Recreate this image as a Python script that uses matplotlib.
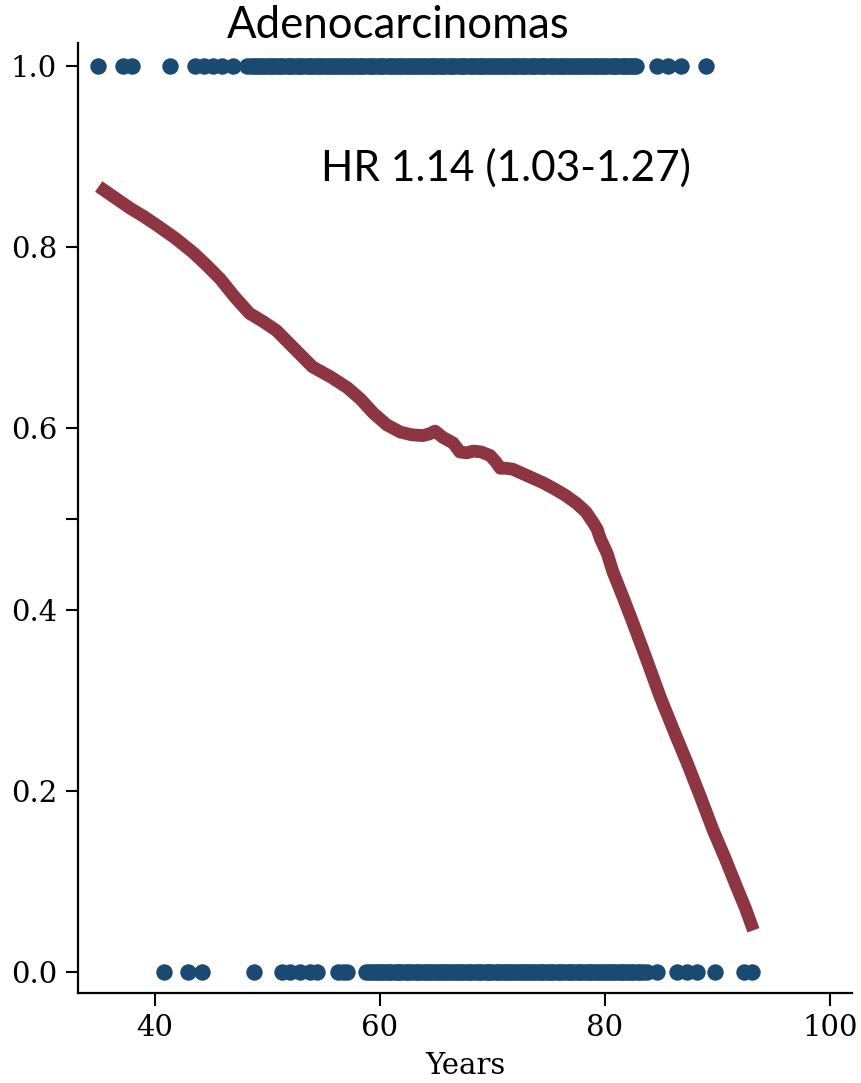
import matplotlib
matplotlib.use("Agg")
import matplotlib.pyplot as plt

# ---- data ----
title = "Adenocarcinomas"
annotation = "HR 1.14 (1.03-1.27)"
x_label = "Years"
x_ticks = [40, 60, 80, 100]
y_ticks = [0.0, 0.2, 0.4, 0.6, 0.8, 1.0]
y_minor_ticks = [0.5]

# ages of subjects with outcome = 1 (top row)
ages_event = [34.9, 37.2, 38.0, 41.3, 43.6, 44.4, 45.2, 46.0, 46.9, 48.2,
              48.5, 48.7, 49.0, 49.2, 49.4, 49.6, 49.9, 50.1, 50.3, 50.5,
              50.8, 51.0, 51.2, 51.4, 51.7, 51.9, 52.1, 52.3, 52.6, 52.8,
              53.0, 53.2, 53.5, 53.7, 53.9, 54.1, 54.4, 54.6, 54.8, 55.0,
              55.3, 55.5, 55.7, 55.9, 56.2, 56.4, 56.6, 56.8, 57.1, 57.3,
              57.5, 57.7, 58.0, 58.2, 58.4, 58.6, 58.9, 59.1, 59.3, 59.5,
              59.8, 60.0, 60.2, 60.4, 60.7, 60.9, 61.1, 61.3, 61.6, 61.8,
              62.0, 62.2, 62.5, 62.7, 62.9, 63.1, 63.4, 63.6, 63.8, 64.0,
              64.3, 64.5, 64.7, 64.9, 65.2, 65.4, 65.6, 65.8, 66.1, 66.3,
              66.5, 66.7, 67.0, 67.2, 67.4, 67.6, 67.9, 68.1, 68.3, 68.5,
              68.8, 69.0, 69.2, 69.4, 69.7, 69.9, 70.1, 70.3, 70.6, 70.8,
              71.0, 71.2, 71.5, 71.7, 71.9, 72.1, 72.4, 72.6, 72.8, 73.0,
              73.3, 73.5, 73.7, 73.9, 74.2, 74.4, 74.6, 74.8, 75.1, 75.3,
              75.5, 75.7, 76.0, 76.2, 76.4, 76.6, 76.9, 77.1, 77.3, 77.5,
              77.8, 78.0, 78.2, 78.4, 78.7, 78.9, 79.1, 79.3, 79.6, 79.8,
              80.0, 80.2, 80.5, 80.7, 80.9, 81.1, 81.4, 81.6, 81.8, 82.0,
              82.2, 82.4, 82.6, 82.8, 84.6, 85.6, 86.8, 89.0]

# ages of subjects with outcome = 0 (bottom row)
ages_noevent = [40.8, 42.9, 44.2, 48.8, 51.3, 52.0, 52.9, 53.8, 54.4, 56.3,
                56.7, 57.1, 58.8, 59.0, 59.2, 59.5, 59.7, 59.9, 60.1, 60.4,
                60.6, 60.8, 61.0, 61.3, 61.5, 61.7, 61.9, 62.2, 62.4, 62.6,
                62.8, 63.1, 63.3, 63.5, 63.7, 64.0, 64.2, 64.4, 64.6, 64.9,
                65.1, 65.3, 65.5, 65.8, 66.0, 66.2, 66.4, 66.7, 66.9, 67.1,
                67.3, 67.6, 67.8, 68.0, 68.2, 68.5, 68.7, 68.9, 69.1, 69.4,
                69.6, 69.8, 70.0, 70.3, 70.5, 70.7, 70.9, 71.2, 71.4, 71.6,
                71.8, 72.1, 72.3, 72.5, 72.7, 73.0, 73.2, 73.4, 73.6, 73.9,
                74.1, 74.3, 74.5, 74.8, 75.0, 75.2, 75.4, 75.7, 75.9, 76.1,
                76.3, 76.6, 76.8, 77.0, 77.2, 77.5, 77.7, 77.9, 78.1, 78.4,
                78.6, 78.8, 79.0, 79.3, 79.5, 79.7, 79.9, 80.2, 80.4, 80.6,
                80.8, 81.1, 81.3, 81.5, 81.7, 82.0, 82.2, 82.4, 82.6, 82.9,
                83.1, 83.4, 83.7, 84.6, 86.4, 87.3, 88.2, 89.8, 92.4, 93.1]

# smoothed (lowess) curve
curve_x = [35.0, 36.4, 37.8, 39.0, 40.2, 41.8, 43.4, 44.6, 45.8, 47.1,
           48.4, 49.6, 50.8, 52.4, 54.0, 55.6, 57.1, 58.3, 59.4, 60.6,
           61.8, 62.8, 63.8, 64.4, 64.9, 65.6, 66.5, 67.1, 67.7, 68.3,
           69.0, 69.8, 70.3, 70.7, 71.2, 71.8, 72.7, 73.6, 74.5, 75.4,
           76.5, 77.5, 78.3, 78.9, 79.3, 79.6, 80.2, 80.7, 81.6, 82.5,
           83.7, 84.9, 86.1, 87.3, 88.5, 89.6, 90.7, 91.7, 92.5, 93.2]
curve_y = [0.867, 0.855, 0.843, 0.834, 0.824, 0.810, 0.794, 0.780, 0.765, 0.745,
           0.727, 0.718, 0.708, 0.688, 0.668, 0.657, 0.645, 0.632, 0.617, 0.604,
           0.596, 0.593, 0.592, 0.594, 0.597, 0.590, 0.584, 0.574, 0.573, 0.575,
           0.574, 0.570, 0.563, 0.556, 0.556, 0.555, 0.550, 0.545, 0.540, 0.534,
           0.526, 0.517, 0.508, 0.497, 0.489, 0.478, 0.462, 0.442, 0.414, 0.385,
           0.345, 0.304, 0.267, 0.231, 0.193, 0.157, 0.125, 0.094, 0.070, 0.046]

dot_color = "#1a4a72"
line_color = "#8d3540"

fig = plt.figure(figsize=(8.61, 10.83), dpi=100)
ax = fig.add_axes([78/861, 1 - 993/1083, (852 - 78)/861, (993 - 43)/1083])

ax.scatter(ages_event, [1.0] * len(ages_event), s=140, color=dot_color,
           linewidths=0, zorder=2)
ax.scatter(ages_noevent, [0.0] * len(ages_noevent), s=140, color=dot_color,
           linewidths=0, zorder=2)
ax.plot(curve_x, curve_y, color=line_color, linewidth=9.2,
        solid_capstyle="butt", solid_joinstyle="round", zorder=3)

ax.set_xlim(33.16, 101.96)
ax.set_ylim(-0.0232, 1.0254)
ax.set_xticks(x_ticks)
ax.set_yticks(y_ticks)
ax.set_yticks(y_minor_ticks, minor=True)
ax.set_xticklabels([str(v) for v in x_ticks])
ax.set_yticklabels([f"{v:.1f}" for v in y_ticks])

for s in ["top", "right"]:
    ax.spines[s].set_visible(False)
for s in ["left", "bottom"]:
    ax.spines[s].set_linewidth(1.6)

ax.tick_params(axis="both", which="major", length=9, width=1.5,
               labelsize=21, pad=6)
ax.tick_params(axis="y", which="minor", length=9, width=1.5)
for lab in ax.get_xticklabels() + ax.get_yticklabels():
    lab.set_fontfamily("DejaVu Serif")

ax.set_xlabel(x_label, fontsize=21, fontfamily="DejaVu Serif", labelpad=0)
ax.xaxis.set_label_coords(0.5, -0.062)

fig.text(398/861, 1 - 25/1083, title, ha="center", va="center",
         fontsize=31.5, fontfamily="Lato")
fig.text(506/861, 1 - 168/1083, annotation, ha="center", va="center",
         fontsize=30.5, fontfamily="Lato")

fig.savefig("out.png", dpi=100)
